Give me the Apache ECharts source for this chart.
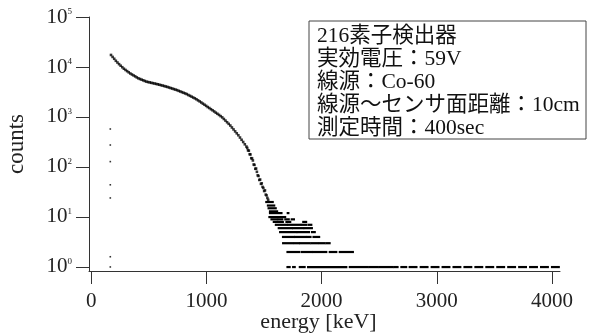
<!DOCTYPE html>
<html>
<head>
<meta charset="utf-8">
<script src="https://cdn.jsdelivr.net/npm/echarts@6/dist/echarts.min.js"></script>
<style>
  html, body { margin: 0; padding: 0; background: #fff; }
  #chart { width: 603px; height: 336px; }
</style>
</head>
<body>
<div id="chart"></div>
<script>
// main spectrum curve (energy keV, counts)
const curveEnergy = [171,185,199,213,227,241,255,269,283,297,311,325,339,353,367,381,395,409,423,437,451,465,479,493,507,521,535,549,563,577,591,605,619,633,647,661,675,689,703,717,731,745,759,773,787,801,815,829,843,857,871,885,899,913,927,941,955,969,983,997,1011,1025,1039,1053,1067,1081,1095,1109,1123,1137,1151,1165,1179,1193,1207,1221,1235,1249,1263,1277,1291,1305,1319,1333,1347,
  1354,1361,1368,1375,1382,1389,1396,1403,1410,1417,1424,1431,1438,1445,1452,1459,1466,1473,1480,1487,1494,1501,1508,1515,1522,1529,1536];
const curveCounts = [17400,15900,14600,13300,12300,11400,10600,9890,9230,8730,8260,7820,7410,7080,6780,6490,6190,5930,5750,5580,5410,5250,5090,5000,4920,4830,4750,4670,4590,4510,4420,4330,4250,4160,4070,3990,3890,3790,3710,3610,3530,3440,3330,3240,3140,3050,2960,2870,2750,2650,2550,2450,2360,2260,2150,2050,1950,1850,1760,1670,1580,1510,1430,1360,1290,1220,1160,1100,1040,982,912,847,785,729,675,617,564,515,471,431,388,350,316,284,256,
  240,215,212,180,178,150,148,135,112,110,92,93,80,68,66,55,56,46,47,40,38,33,34,28,27,24,22];

// isolated points near the threshold
const lowEnergy = [165,165,165,165,165,165,165];
const lowCounts = [575,275,128,44,24,1.6,1];

// low-count tail: runs of channels at the same integer count [from keV, to keV, counts]
const tailRuns = [
  [1519,1576,20],
  [1533,1589,17],
  [1539,1602,15],
  [1551,1614,13],
  [1551,1652,12],[1705,1712,12],
  [1546,1652,10],[1664,1684,10],
  [1564,1614,9],[1627,1659,9],[1684,1715,9],[1740,1760,9],
  [1584,1609,8],[1619,1664,8],[1694,1728,8],[1840,1866,8],
  [1602,1700,7],[1712,1815,7],[1827,1866,7],[1885,1911,7],
  [1627,1740,6],[1752,1840,6],[1852,1916,6],
  [1639,1780,5],[1792,1891,5],[1916,1941,5],
  [1664,1760,4],[1772,1866,4],[1879,1904,4],[1929,1979,4],
  [1665,1752,3],[1767,1804,3],[1816,1897,3],[1911,1969,3],[1984,2027,3],[2042,2070,3],
  [1703,1752,2],[1767,1804,2],[1825,1911,2],[1925,2041,2],[2070,2128,2],[2157,2272,2],
  [1703,1723,1],[1752,1767,1],[1810,1853,1],[1882,2215,1],[2244,2402,1],[2417,2489,1],
  [2504,2619,1],[2633,2660,1],[2692,2735,1],[2764,2824,1],[2860,2920,1],[2955,3015,1],
  [3050,3110,1],[3145,3205,1],[3240,3300,1],[3335,3395,1],[3430,3490,1],[3525,3585,1],
  [3620,3680,1],[3715,3775,1],[3810,3870,1],[3905,3965,1],[4000,4060,1]
];

const xTicks = [0, 1000, 2000, 3000, 4000];
const yTicks = [1, 10, 100, 1000, 10000, 100000];
const infoLines = ['216素子検出器', '実効電圧：59V', '線源：Co-60', '線源～センサ面距離：10cm', '測定時間：400sec'];

const font = "'Liberation Serif', 'Noto Sans CJK JP', serif";
const ink = '#222';

const chart = echarts.init(document.getElementById('chart'), null, { renderer: 'canvas' });

chart.setOption({
  animation: false,
  grid: { left: 89, right: 43, top: 17, bottom: 65, containLabel: false, outerBoundsMode: 'none' },
  xAxis: {
    type: 'value',
    min: -20,
    max: 4070,
    name: 'energy [keV]',
    nameLocation: 'middle',
    nameGap: 40,
    nameMoveOverlap: false,
    nameTextStyle: { fontFamily: font, fontSize: 22, color: ink, padding: [0, 12, 0, 0] },
    axisLine: { show: true, onZero: false, lineStyle: { color: '#333', width: 1 } },
    axisTick: { show: true, length: 13, customValues: xTicks, lineStyle: { color: '#333' } },
    axisLabel: {
      customValues: xTicks,
      margin: 20,
      fontFamily: font,
      fontSize: 21,
      color: ink,
      formatter: (v) => String(v)
    },
    splitLine: { show: false }
  },
  yAxis: {
    type: 'log',
    logBase: 10,
    min: 0.83,
    max: 100000,
    name: 'counts',
    nameLocation: 'middle',
    nameGap: 61,
    nameMoveOverlap: false,
    nameTextStyle: { fontFamily: font, fontSize: 23, color: ink },
    axisLine: { show: true, onZero: false, lineStyle: { color: '#333', width: 1 } },
    axisTick: { show: true, length: 13, customValues: yTicks, lineStyle: { color: '#333' } },
    axisLabel: {
      customValues: yTicks,
      margin: 17,
      fontFamily: font,
      fontSize: 21,
      color: ink,
      formatter: (v) => '{b|10}{s|' + Math.round(Math.log10(v)) + '}',
      rich: {
        b: { fontFamily: font, fontSize: 21, color: ink },
        s: { fontFamily: font, fontSize: 9, color: ink, verticalAlign: 'top', padding: [1, 0, 0, 0] }
      }
    },
    splitLine: { show: false }
  },
  graphic: [
    {
      type: 'rect',
      shape: { x: 309, y: 21, width: 277, height: 118 },
      style: { fill: '#fff', stroke: '#444', lineWidth: 1 },
      z: 10
    },
    {
      type: 'text',
      x: 317,
      y: 25,
      z: 11,
      style: {
        text: infoLines.join('\n'),
        fontFamily: font,
        fontSize: 21.5,
        lineHeight: 23,
        fill: '#111'
      }
    }
  ],
  series: [
    {
      type: 'scatter',
      symbol: 'rect',
      symbolSize: 2.6,
      itemStyle: { color: '#000' },
      data: curveEnergy.map((e, i) => [e, curveCounts[i]])
    },
    {
      type: 'scatter',
      symbol: 'rect',
      symbolSize: 1.6,
      itemStyle: { color: '#000' },
      data: lowEnergy.map((e, i) => [e, lowCounts[i]])
    },
    {
      type: 'custom',
      encode: { x: [0, 1], y: 2 },
      data: tailRuns,
      renderItem: (params, api) => {
        const a = api.coord([api.value(0), api.value(2)]);
        const b = api.coord([api.value(1), api.value(2)]);
        return {
          type: 'rect',
          shape: { x: a[0] - 1, y: a[1] - 1, width: b[0] - a[0] + 2, height: 2.2 },
          style: { fill: '#000' }
        };
      }
    }
  ]
});
</script>
</body>
</html>
